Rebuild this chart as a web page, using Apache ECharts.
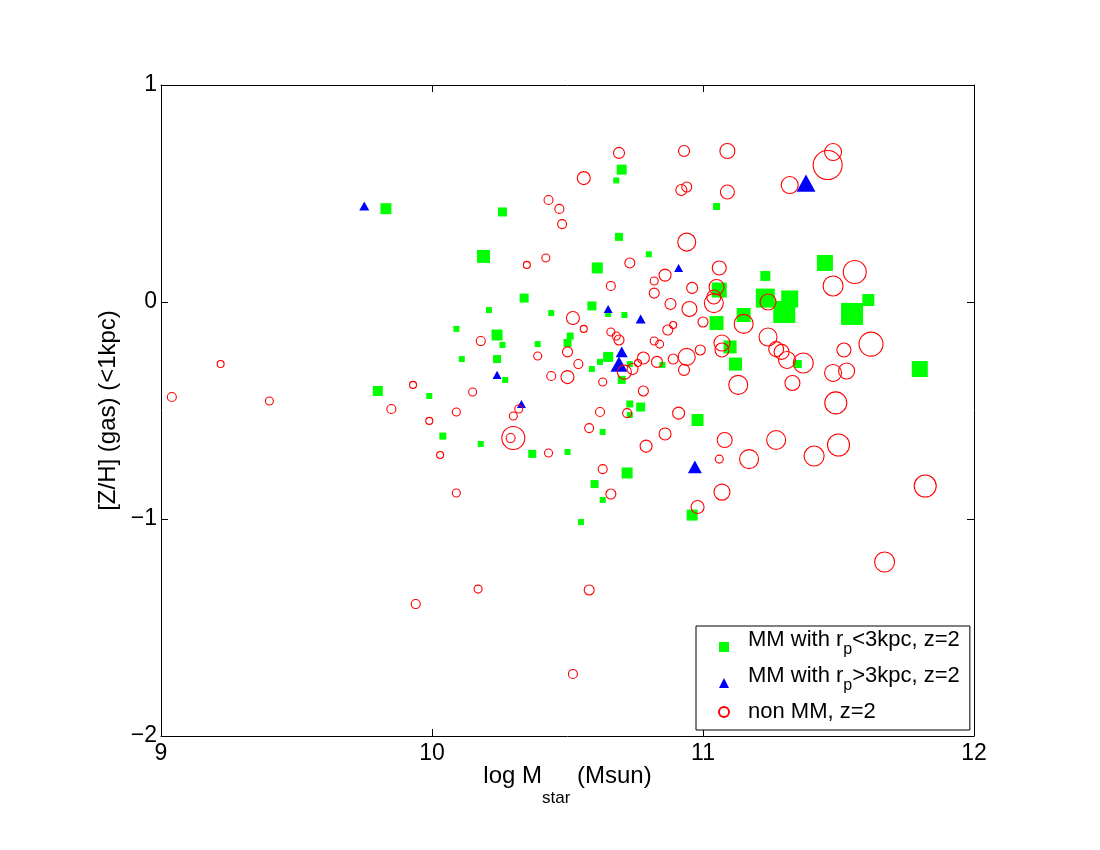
<!DOCTYPE html>
<html>
<head>
    <meta charset="utf-8">
    <title>[Z/H] gas vs log Mstar</title>
    <script src="https://cdn.jsdelivr.net/npm/echarts@6/dist/echarts.min.js"></script>
</head>
<body style="margin:0; background:#fff;">
<div id="main" style="width:1100px; height:850px;"></div>

<script type="text/javascript">
    // MM with r_p < 3 kpc (green squares); third value = marker size
    var nearX = [9.83, 10.26, 10.70, 10.68, 11.05, 10.19, 10.69, 10.80, 10.61, 10.34,
                 10.59, 10.21, 10.44, 10.65, 10.71, 10.09, 10.24, 10.26, 10.39, 10.51,
                 10.50, 10.11, 10.24, 10.65, 10.62, 10.59, 10.73, 10.70, 10.85, 10.27,
                 9.80, 9.99, 10.04, 10.18, 10.37, 10.50, 10.73, 10.77, 10.73, 10.63,
                 10.98, 10.72, 10.60, 10.63, 10.55, 10.96, 11.45, 11.23, 11.06, 11.23,
                 11.32, 11.30, 11.55, 11.61, 11.15, 11.05, 11.10, 11.12, 11.35, 11.80];
    var nearY = [0.43, 0.415, 0.61, 0.56, 0.44, 0.21, 0.30, 0.22, 0.157, 0.018,
                 -0.018, -0.037, -0.051, -0.055, -0.06, -0.124, -0.152, -0.198, -0.194, -0.157,
                 -0.189, -0.263, -0.263, -0.253, -0.276, -0.309, -0.286, -0.359, -0.29, -0.359,
                 -0.41, -0.433, -0.618, -0.654, -0.70, -0.691, -0.47, -0.484, -0.521, -0.599,
                 -0.544, -0.788, -0.839, -0.912, -1.014, -0.982, 0.18, 0.12, 0.055, 0.018,
                 0.014, -0.046, -0.055, 0.009, -0.06, -0.097, -0.207, -0.286, -0.286, -0.309];
    var nearS = [11, 9, 10, 6, 7, 13, 8, 6, 11, 9,
                 9, 6, 6, 6, 6, 6, 11, 6, 6, 7,
                 8, 6, 8, 10, 6, 6, 6, 8, 6, 6,
                 10, 6, 7, 6, 8, 6, 7, 9, 6, 6,
                 12, 11, 8, 6, 6, 11, 16, 10, 15, 19,
                 17, 22, 22, 12, 14, 14, 13, 13, 8, 16];

    // MM with r_p > 3 kpc (blue triangles)
    var farX = [9.75, 11.38, 10.91, 10.65, 10.77, 10.24, 10.33, 10.70, 10.69, 10.97];
    var farY = [0.442, 0.548, 0.157, -0.032, -0.078, -0.336, -0.47, -0.23, -0.286, -0.76];
    var farS = [10, 19, 9, 9, 10, 9, 9, 12, 17, 14];

    // non MM (red open circles)
    var nonX = [9.04, 9.22, 9.40, 9.93, 9.85, 9.99, 10.03, 10.09, 10.15, 10.09,
                9.94, 10.17, 10.58, 10.52, 10.29, 10.30, 10.32, 10.30, 10.18, 10.39,
                10.44, 10.50, 10.63, 10.43, 10.58, 10.62, 10.72, 10.78, 10.91, 10.86,
                10.79, 10.63, 10.66, 10.98, 11.07, 11.08, 11.27, 11.50, 11.06, 11.17,
                11.41, 11.49, 11.82, 11.67, 11.13, 11.33, 11.48, 11.53, 10.69, 10.93,
                11.09, 11.48, 11.46, 11.32, 10.56, 10.92, 10.94, 11.09, 10.43, 10.47,
                10.48, 10.94, 10.42, 10.35, 10.73, 10.86, 10.82, 10.66, 10.82, 10.96,
                11.06, 11.05, 11.04, 11.04, 10.88, 10.95, 10.52, 10.56, 10.66, 10.68,
                10.69, 10.87, 10.89, 11.00, 10.82, 10.84, 10.50, 10.54, 10.78, 10.76,
                10.74, 10.71, 10.83, 10.89, 10.94, 10.93, 10.99, 11.07, 11.07, 11.15,
                11.24, 11.24, 11.27, 11.29, 11.31, 11.37, 11.52, 11.62, 11.56, 11.48];
    var nonY = [-0.438, -0.286, -0.456, -0.382, -0.493, -0.548, -0.705, -0.507, -0.415, -0.88,
                -1.392, -1.323, -1.327, -1.714, -0.627, -0.627, -0.493, -0.525, -0.18, -0.249,
                -0.341, -0.346, -0.369, -0.696, -0.581, -0.507, -0.512, -0.41, -0.512, -0.608,
                -0.664, -0.77, -0.885, -0.945, -0.876, -0.636, -0.636, -0.659, -0.724, -0.724,
                -0.71, -0.465, -0.848, -1.198, -0.382, -0.373, -0.327, -0.318, 0.687, 0.696,
                0.696, 0.691, 0.631, 0.539, 0.571, 0.516, 0.53, 0.507, 0.47, 0.429,
                0.359, 0.276, 0.203, 0.171, 0.18, 0.124, 0.097, 0.074, 0.041, 0.065,
                0.157, 0.069, 0.023, -0.005, -0.009, -0.032, -0.074, -0.124, -0.138, -0.157,
                -0.175, -0.129, -0.106, -0.092, -0.18, -0.194, -0.23, -0.286, -0.258, -0.281,
                -0.309, -0.323, -0.276, -0.263, -0.253, -0.313, -0.221, -0.221, -0.189, -0.101,
                0.0, -0.161, -0.217, -0.23, -0.267, -0.281, -0.221, -0.194, 0.138, 0.074];
    var nonS = [9, 7, 8, 7, 9, 7, 7, 8, 8, 8,
                9, 8, 10, 9, 9, 23, 8, 8, 9, 8,
                9, 13, 8, 8, 9, 9, 9, 10, 12, 12,
                12, 9, 10, 13, 16, 15, 19, 22, 8, 19,
                20, 22, 22, 20, 19, 15, 17, 16, 11, 11,
                15, 17, 29, 17, 13, 11, 10, 14, 9, 9,
                9, 18, 8, 7, 10, 12, 8, 9, 10, 11,
                14, 15, 14, 19, 11, 15, 13, 7, 8, 8,
                10, 10, 7, 10, 8, 8, 10, 9, 12, 7,
                11, 14, 11, 10, 17, 11, 10, 14, 16, 19,
                16, 18, 15, 15, 17, 20, 14, 24, 23, 20];

    var seriesNames = ['MM with r_p<3kpc, z=2', 'MM with r_p>3kpc, z=2', 'non MM, z=2'];
    var xTicks = [9, 10, 11, 12];
    var yTicks = [-2, -1, 0, 1];

    function pts(xs, ys, ss) {
        var out = [];
        for (var i = 0; i < xs.length; i++) {
            out.push([xs[i], ys[i], ss[i]]);
        }
        return out;
    }

    var FONT = 'Liberation Sans, Arial, Helvetica, sans-serif';

    // the empty second line pushes the legend icon below the first text line
    var legendText = {};
    legendText[seriesNames[0]] = '{a|MM with r}{s|p}{b|<3kpc, z=2}\n{e| }';
    legendText[seriesNames[1]] = '{a|MM with r}{s|p}{b|>3kpc, z=2}\n{e| }';
    legendText[seriesNames[2]] = '{c|non MM, z=2}';

    var axisCommon = {
        type: 'value',
        interval: 1,
        axisLine: {show: true, onZero: false, lineStyle: {color: '#000', width: 1}},
        axisTick: {show: true, inside: true, length: 7, lineStyle: {color: '#000'}},
        splitLine: {show: false}
    };

    var option = {
        backgroundColor: '#fff',
        animation: false,
        grid: {left: 161, right: 126, top: 85, bottom: 114},
        legend: {
            orient: 'vertical',
            left: 696,
            top: 626,
            padding: [3, 10, 7, 22],
            itemGap: 4,
            itemWidth: 10,
            itemHeight: 10,
            selectedMode: false,
            borderColor: '#000',
            borderWidth: 1,
            backgroundColor: '#fff',
            data: seriesNames,
            formatter: function (name) { return legendText[name]; },
            textStyle: {
                fontFamily: FONT,
                color: '#000',
                rich: {
                    a: {fontFamily: FONT, fontSize: 22, lineHeight: 12, verticalAlign: 'top', padding: [0, 0, 0, 14]},
                    b: {fontFamily: FONT, fontSize: 22, lineHeight: 12, verticalAlign: 'top'},
                    s: {fontFamily: FONT, fontSize: 16, lineHeight: 16, verticalAlign: 'top', padding: [13, 0, 3, 0]},
                    c: {fontFamily: FONT, fontSize: 22, lineHeight: 34, padding: [0, 0, 0, 14]},
                    e: {fontFamily: FONT, fontSize: 2, lineHeight: 20}
                }
            }
        },
        xAxis: [
            Object.assign({}, axisCommon, {
                position: 'bottom',
                min: xTicks[0],
                max: xTicks[xTicks.length - 1],
                axisLabel: {color: '#000', fontFamily: FONT, fontSize: 23, margin: 6},
                name: '{a|log M}{s|star}{a| (Msun)}',
                nameLocation: 'middle',
                nameGap: 28,
                nameMoveOverlap: false,
                nameTextStyle: {
                    color: '#000',
                    fontFamily: FONT,
                    rich: {
                        a: {fontFamily: FONT, fontSize: 24, lineHeight: 26, verticalAlign: 'top', color: '#000'},
                        s: {fontFamily: FONT, fontSize: 17, lineHeight: 17, verticalAlign: 'top', padding: [26, 0, 0, 0], color: '#000'}
                    }
                }
            }),
            Object.assign({}, axisCommon, {
                position: 'top',
                min: xTicks[0],
                max: xTicks[xTicks.length - 1],
                axisLabel: {show: false}
            })
        ],
        yAxis: [
            Object.assign({}, axisCommon, {
                position: 'left',
                min: yTicks[0],
                max: yTicks[yTicks.length - 1],
                axisLabel: {
                    color: '#000', fontFamily: FONT, fontSize: 23, margin: 4,
                    formatter: function (v) { return v < 0 ? '\u2212' + Math.abs(v) : String(v); }
                },
                name: '[Z/H] (gas) (<1kpc)',
                nameLocation: 'middle',
                nameGap: 37,
                nameTextStyle: {color: '#000', fontFamily: FONT, fontSize: 24}
            }),
            Object.assign({}, axisCommon, {
                position: 'right',
                min: yTicks[0],
                max: yTicks[yTicks.length - 1],
                axisLabel: {show: false}
            })
        ],
        series: [
            {
                name: seriesNames[0],
                type: 'scatter',
                symbol: 'rect',
                symbolSize: function (v) { return v[2]; },
                itemStyle: {color: '#00ff00', opacity: 1},
                data: pts(nearX, nearY, nearS),
                z: 2
            },
            {
                name: seriesNames[1],
                type: 'scatter',
                symbol: 'triangle',
                symbolSize: function (v) { return [v[2], v[2] * 0.9]; },
                itemStyle: {color: '#0000ff', opacity: 1},
                data: pts(farX, farY, farS),
                z: 3
            },
            {
                name: seriesNames[2],
                type: 'scatter',
                symbol: 'circle',
                symbolSize: function (v) { return v[2]; },
                itemStyle: {color: 'rgba(0,0,0,0)', borderColor: '#ff0000', borderWidth: 1.1, opacity: 1},
                data: pts(nonX, nonY, nonS),
                z: 4
            }
        ]
    };

    var myChart = echarts.init(document.getElementById('main'));
    myChart.setOption(option);
</script>
</body>
</html>
